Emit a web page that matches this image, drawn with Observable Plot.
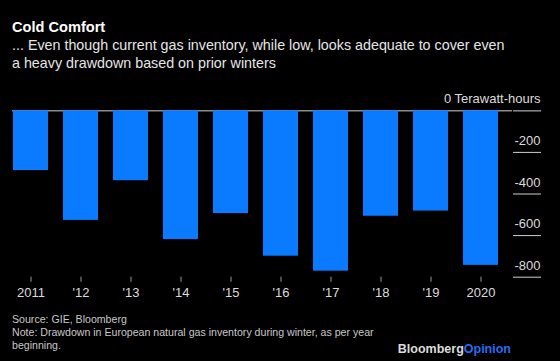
<!DOCTYPE html>
<html>
<head>
<meta charset="utf-8">
<script src="https://cdn.jsdelivr.net/npm/d3@7"></script>
<script src="https://cdn.jsdelivr.net/npm/@observablehq/plot@0.6"></script>
<style>
  html, body { margin: 0; padding: 0; background: #000; }
  body { width: 560px; height: 361px; position: relative; overflow: hidden;
         font-family: "Liberation Sans", Arial, Helvetica, sans-serif; }
  .abs { position: absolute; white-space: nowrap; }
  #title { left: 12px; top: 17.5px; font-size: 14.6px; font-weight: bold; line-height: 18px; color: #fff; }
  #subtitle { left: 12px; top: 37.4px; font-size: 14.3px; line-height: 17.3px; color: #e6e6e6; }
  #chart { left: 0; top: 80px; }
  #footer { left: 12px; top: 312.5px; font-size: 10.6px; line-height: 13px; color: #c8c8c8; }
  #logo { right: 49px; top: 340.7px; font-size: 12.5px; line-height: 16px; font-weight: bold; color: #dcdcdc; }
  #logo span { color: #2a6cf0; }
</style>
</head>
<body>
<div id="title" class="abs">Cold Comfort</div>
<div id="subtitle" class="abs">... Even though current gas inventory, while low, looks adequate to cover even<br>a heavy drawdown based on prior winters</div>
<div id="chart" class="abs"></div>
<div id="footer" class="abs">Source: GIE, Bloomberg<br>Note: Drawdown in European natural gas inventory during winter, as per year<br>beginning.</div>
<div id="logo" class="abs">Bloomberg<span>Opinion</span></div>
<script>
// Data
const years = [2011, 2012, 2013, 2014, 2015, 2016, 2017, 2018, 2019, 2020];
const drawdown = [-287, -527, -336, -619, -494, -699, -771, -507, -482, -743];
const yearLabels = ["2011", "'12", "'13", "'14", "'15", "'16", "'17", "'18", "'19", "2020"];
const yTicks = [0, -200, -400, -600, -800];
const yUnit = "Terawatt-hours";

const data = years.map((y, i) => ({year: y, value: drawdown[i]}));
const labelOf = new Map(years.map((y, i) => [y, yearLabels[i]]));

const chart = Plot.plot({
  width: 560,
  height: 225,
  marginLeft: 12,
  marginRight: 48,
  marginTop: 30.3,
  marginBottom: 28.3,
  style: {background: "transparent", color: "#dcdcdc", fontFamily: "'Liberation Sans', Arial, Helvetica, sans-serif", fontSize: "13px"},
  x: {type: "band", domain: years, paddingInner: 0.3075, paddingOuter: 0.072, align: 0.05, label: null},
  y: {domain: [-800, 0], label: null},
  marks: [
    Plot.ruleY([0], {stroke: "#8c8c8c", strokeWidth: 1.5}),
    Plot.barY(data, {x: "year", y: "value", fill: "#0a7bff"}),
    Plot.axisY(yTicks.filter(d => d !== 0), {anchor: "right", tickSize: 28, tickFormat: () => "", stroke: "#d0d0d0", label: null}),
    Plot.axisY([0], {anchor: "right", tickSize: 28, tickFormat: () => "", stroke: "#8c8c8c", strokeWidth: 1.5, label: null}),
    Plot.text(yTicks, {y: d => d, text: d => d === 0 ? `0 ${yUnit}` : String(d), frameAnchor: "right", textAnchor: "end", dx: 28, dy: -11.5, fill: "#dcdcdc", fontSize: 13}),
    Plot.axisX({anchor: "bottom", tickSize: 5, tickPadding: 6, tickFormat: d => labelOf.get(d), stroke: "#9a9a9a", fill: "#dcdcdc", fontSize: 13, label: null})
  ]
});
document.getElementById("chart").appendChild(chart);
</script>
</body>
</html>
